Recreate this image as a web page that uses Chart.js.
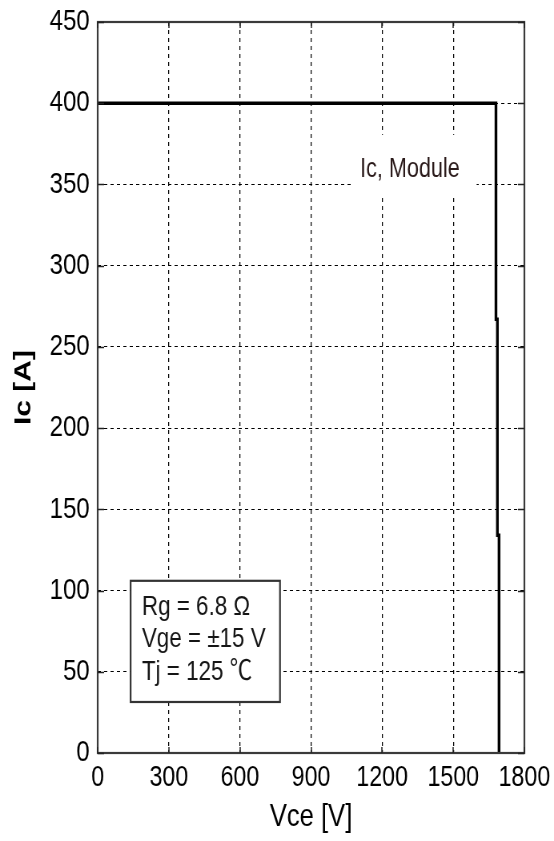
<!DOCTYPE html>
<html>
<head>
<meta charset="utf-8">
<script src="https://cdn.jsdelivr.net/npm/chart.js@4.4.1/dist/chart.umd.min.js"></script>
<style>
  html, body { margin: 0; padding: 0; background: #fff; overflow: hidden; }
  #wrap { width: 554px; height: 841px; overflow: hidden; }
  /* the chart is laid out on a wider canvas and condensed horizontally */
  #c { display: block; transform: scaleX(0.80058); transform-origin: 0 0; }
</style>
</head>
<body>
<div id="wrap"><canvas id="c" width="692" height="841"></canvas></div>
<script>
// Reverse-bias safe operating area: collector current vs collector-emitter voltage
const vce = [0, 1680, 1680, 1686, 1686, 1693, 1693];   // V
const ic  = [400, 400, 267, 267, 134, 134, 0];          // A
const xTicks = [0, 300, 600, 900, 1200, 1500, 1800];
const yTicks = [0, 50, 100, 150, 200, 250, 300, 350, 400, 450];
const curveName = 'Ic, Module';
const conditions = ['Rg = 6.8 \u03A9', 'Vge = \u00B115 V', 'Tj = 125 \u2103'];

const FAMILY = '"Liberation Sans", Arial, "Noto Sans CJK SC", "DejaVu Sans", sans-serif';

const overlay = {
  id: 'overlay',
  afterDatasetsDraw(chart, args, o) {
    const { ctx, chartArea: a, scales: { x, y } } = chart;
    ctx.save();

    // curve name with a white backing
    ctx.font = '27px ' + FAMILY;
    ctx.textBaseline = 'middle';
    ctx.textAlign = 'left';
    const nx = x.getPixelForValue(o.nameAt[0]);
    const ny = y.getPixelForValue(o.nameAt[1]);
    const nw = ctx.measureText(curveName).width;
    ctx.fillStyle = '#fff';
    ctx.fillRect(nx - 10, ny - 35, nw + 31, 61);
    ctx.fillStyle = '#2a1a1a';
    ctx.fillText(curveName, nx, ny);

    // test-condition box
    const bx0 = x.getPixelForValue(o.box[0]), by0 = y.getPixelForValue(o.box[1]);
    const bx1 = x.getPixelForValue(o.box[2]), by1 = y.getPixelForValue(o.box[3]);
    ctx.fillStyle = '#fff';
    ctx.fillRect(bx0, by0, bx1 - bx0, by1 - by0);
    ctx.strokeStyle = '#333';
    ctx.lineWidth = 2.2;
    ctx.strokeRect(bx0, by0, bx1 - bx0, by1 - by0);
    ctx.font = '28px ' + FAMILY;
    ctx.fillStyle = '#151515';
    conditions.forEach((t, i) => ctx.fillText(t, bx0 + 14, by0 + 26 + i * 32.5));

    // frame
    ctx.strokeStyle = '#3a3a3a';
    ctx.lineWidth = 2.2;
    ctx.strokeRect(a.left, a.top, a.right - a.left, a.bottom - a.top);

    // inward tick marks on all four sides
    ctx.strokeStyle = '#222';
    ctx.lineWidth = 1.5;
    ctx.beginPath();
    xTicks.forEach(v => {
      const px = Math.round(x.getPixelForValue(v));
      ctx.moveTo(px, a.bottom); ctx.lineTo(px, a.bottom - 6);
      ctx.moveTo(px, a.top); ctx.lineTo(px, a.top + 6);
    });
    yTicks.forEach(v => {
      const py = Math.round(y.getPixelForValue(v)) + 0.5;
      ctx.moveTo(a.left, py); ctx.lineTo(a.left + 8, py);
      ctx.moveTo(a.right, py); ctx.lineTo(a.right - 8, py);
    });
    ctx.stroke();
    ctx.restore();
  }
};

new Chart(document.getElementById('c'), {
  type: 'line',
  data: {
    datasets: [{
      label: curveName,
      data: vce.map((v, i) => ({ x: v, y: ic[i] })),
      borderColor: '#000',
      borderWidth: 3.4,
      pointRadius: 0,
      tension: 0,
      fill: false
    }]
  },
  options: {
    responsive: false,
    animation: false,
    devicePixelRatio: 1,
    layout: { padding: { left: 0, right: 37, top: 22, bottom: 0 } },
    plugins: {
      legend: { display: false },
      tooltip: { enabled: false },
      overlay: { nameAt: [1107, 359], box: [139, 106, 769, 31.4] }
    },
    scales: {
      x: {
        type: 'linear',
        min: 0, max: 1800,
        afterBuildTicks: s => { s.ticks = xTicks.map(v => ({ value: v })); },
        afterFit: s => { s.height = 88; s.paddingLeft = 0; s.paddingRight = 0; },
        grid: { color: '#000', lineWidth: 1.25, drawTicks: false },
        border: { display: false, dash: [4, 4] },
        ticks: {
          padding: 8, maxRotation: 0, autoSkip: false, color: '#000',
          callback: v => String(v),
          font: { family: FAMILY, size: 29 }
        },
        title: {
          display: true, text: 'Vce [V]', color: '#000',
          font: { family: FAMILY, size: 32 },
          padding: { top: 0, bottom: 5 }
        }
      },
      y: {
        type: 'linear',
        min: 0, max: 450,
        afterBuildTicks: s => { s.ticks = yTicks.map(v => ({ value: v })); },
        afterFit: s => { s.width = 122; s.paddingTop = 0; s.paddingBottom = 0; },
        grid: { color: '#000', lineWidth: 1, drawTicks: false },
        border: { display: false, dash: [4, 4] },
        ticks: {
          padding: 10, autoSkip: false, color: '#000',
          callback: v => String(v),
          font: { family: FAMILY, size: 30 }
        },
        title: {
          display: true, text: 'Ic [A]', color: '#000',
          font: { family: FAMILY, size: 30, weight: 'bold' },
          padding: { top: 12, bottom: 0 }
        }
      }
    }
  },
  plugins: [overlay]
});
</script>
</body>
</html>
